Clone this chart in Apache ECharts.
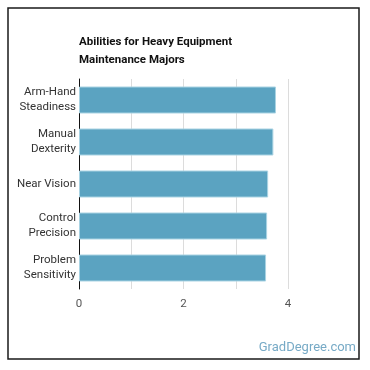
<!DOCTYPE html>
<html>
<head>
<meta charset="utf-8">
<script src="https://cdn.jsdelivr.net/npm/echarts@6/dist/echarts.min.js"></script>
<style>
  html, body { margin: 0; padding: 0; background: #fff; }
  #chart { width: 370px; height: 370px; }
</style>
</head>
<body>
<div id="chart"></div>
<script>
const categories = [
  "Arm-Hand\nSteadiness",
  "Manual\nDexterity",
  "Near Vision",
  "Control\nPrecision",
  "Problem\nSensitivity",
];
const scores = [3.77, 3.72, 3.62, 3.60, 3.58];
const xTicks = [0, 2, 4];

const chart = echarts.init(document.getElementById("chart"));

const option = {
  animation: false,
  textStyle: { fontFamily: "Roboto, 'Noto Sans', sans-serif" },
  title: {
    text: "Abilities for Heavy Equipment\nMaintenance Majors",
    left: 79,
    top: 33,
    padding: 0,
    textStyle: {
      fontSize: 11.5,
      fontWeight: "bold",
      color: "#111",
      lineHeight: 18,
    },
  },
  graphic: [
    {
      type: "rect",
      shape: { x: 8, y: 8, width: 351, height: 351 },
      style: { fill: "none", stroke: "#1a1a1a", lineWidth: 1.5 },
    },
    {
      type: "text",
      right: 14,
      top: 341,
      style: {
        text: "GradDegree.com",
        fill: "#77aac6",
        fontSize: 13,
        fontFamily: "Roboto, sans-serif",
      },
    },
  ],
  grid: {
    left: 79,
    top: 79,
    width: 209,
    height: 210,
  },
  xAxis: {
    type: "value",
    min: 0,
    max: 4,
    interval: 1,
    axisLine: { show: false },
    axisTick: { show: false },
    axisLabel: {
      color: "#555",
      fontSize: 11.5,
      margin: 9,
      formatter: (v) => (xTicks.includes(v) ? String(v) : ""),
    },
    splitLine: { lineStyle: { color: "#dcdcdc", width: 1 } },
  },
  yAxis: {
    type: "category",
    inverse: true,
    data: categories,
    axisLine: { show: true, lineStyle: { color: "#111", width: 1 } },
    axisTick: { show: false },
    axisLabel: {
      color: "#333",
      fontSize: 11.5,
      lineHeight: 15,
      margin: 3,
      align: "right",
    },
  },
  series: [
    {
      type: "bar",
      data: scores,
      barWidth: 27,
      itemStyle: {
        color: "#5ba3c1",
        borderColor: "#a9d3e3",
        borderWidth: 1,
      },
    },
  ],
};

chart.setOption(option);
</script>
</body>
</html>
